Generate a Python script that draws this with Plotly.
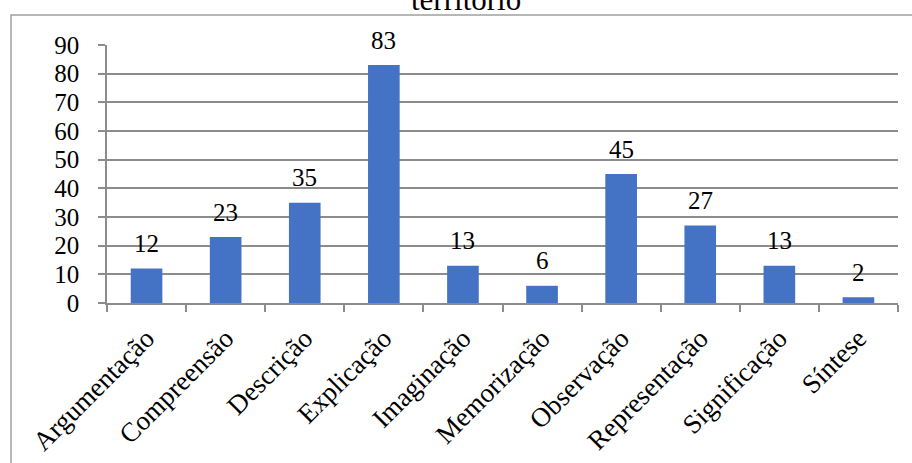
import plotly.graph_objects as go

categorias = ["Argumentação", "Compreensão", "Descrição", "Explicação", "Imaginação",
              "Memorização", "Observação", "Representação", "Significação", "Síntese"]
valores = [12, 23, 35, 83, 13, 6, 45, 27, 13, 2]
titulo = "território"

W, H = 912, 463
L, R, T, B = 107, 14, 45, 160
plot_w = W - L - R
plot_h = H - T - B

def px_x(p):
    return (p - L) / plot_w

def px_y(p):
    return (H - B - p) / plot_h

fonte = dict(family="Liberation Serif, Times New Roman, serif", color="#000000")
cinza = "#8c8c8c"

fig = go.Figure(go.Bar(
    x=categorias, y=valores,
    marker=dict(color="#4472C4", line=dict(width=0)),
    width=0.4,
))

anot = [
    dict(x=c, y=v, xref="x", yref="y", text=str(v), showarrow=False,
         yanchor="middle", yshift=25, font=dict(size=25, **fonte))
    for c, v in zip(categorias, valores)
]
anot.append(dict(x=px_x(466), y=px_y(19), xref="paper", yref="paper", text=titulo,
                 showarrow=False, yanchor="bottom", xanchor="center",
                 font=dict(size=31, **fonte)))

fig.update_layout(
    width=W, height=H,
    margin=dict(l=L, r=R, t=T, b=B, pad=0, autoexpand=False),
    paper_bgcolor="white", plot_bgcolor="white",
    showlegend=False,
    bargap=0.6,
    annotations=anot,
    shapes=[dict(type="rect", xref="paper", yref="paper",
                 x0=px_x(11), x1=px_x(930), y0=px_y(480), y1=px_y(15),
                 line=dict(color="#a0a0a0", width=1.5), fillcolor="rgba(0,0,0,0)",
                 layer="below")],
    xaxis=dict(
        type="category", tickson="boundaries", ticks="outside", ticklen=7,
        tickcolor=cinza, tickwidth=1.5, showline=True, linecolor=cinza, linewidth=1.5,
        showgrid=False, tickangle=-45, tickfont=dict(size=27, **fonte),
        ticklabelstandoff=7, automargin=False,
    ),
    yaxis=dict(
        range=[0, 90], dtick=10, tick0=0, ticks="outside", ticklen=7,
        tickcolor=cinza, tickwidth=1.5, showline=True, linecolor=cinza, linewidth=1.5,
        showgrid=True, gridcolor=cinza, gridwidth=1.5, zeroline=False,
        tickfont=dict(size=25, **fonte), ticklabelstandoff=14, automargin=False,
    ),
)

fig.write_html("out.html")
